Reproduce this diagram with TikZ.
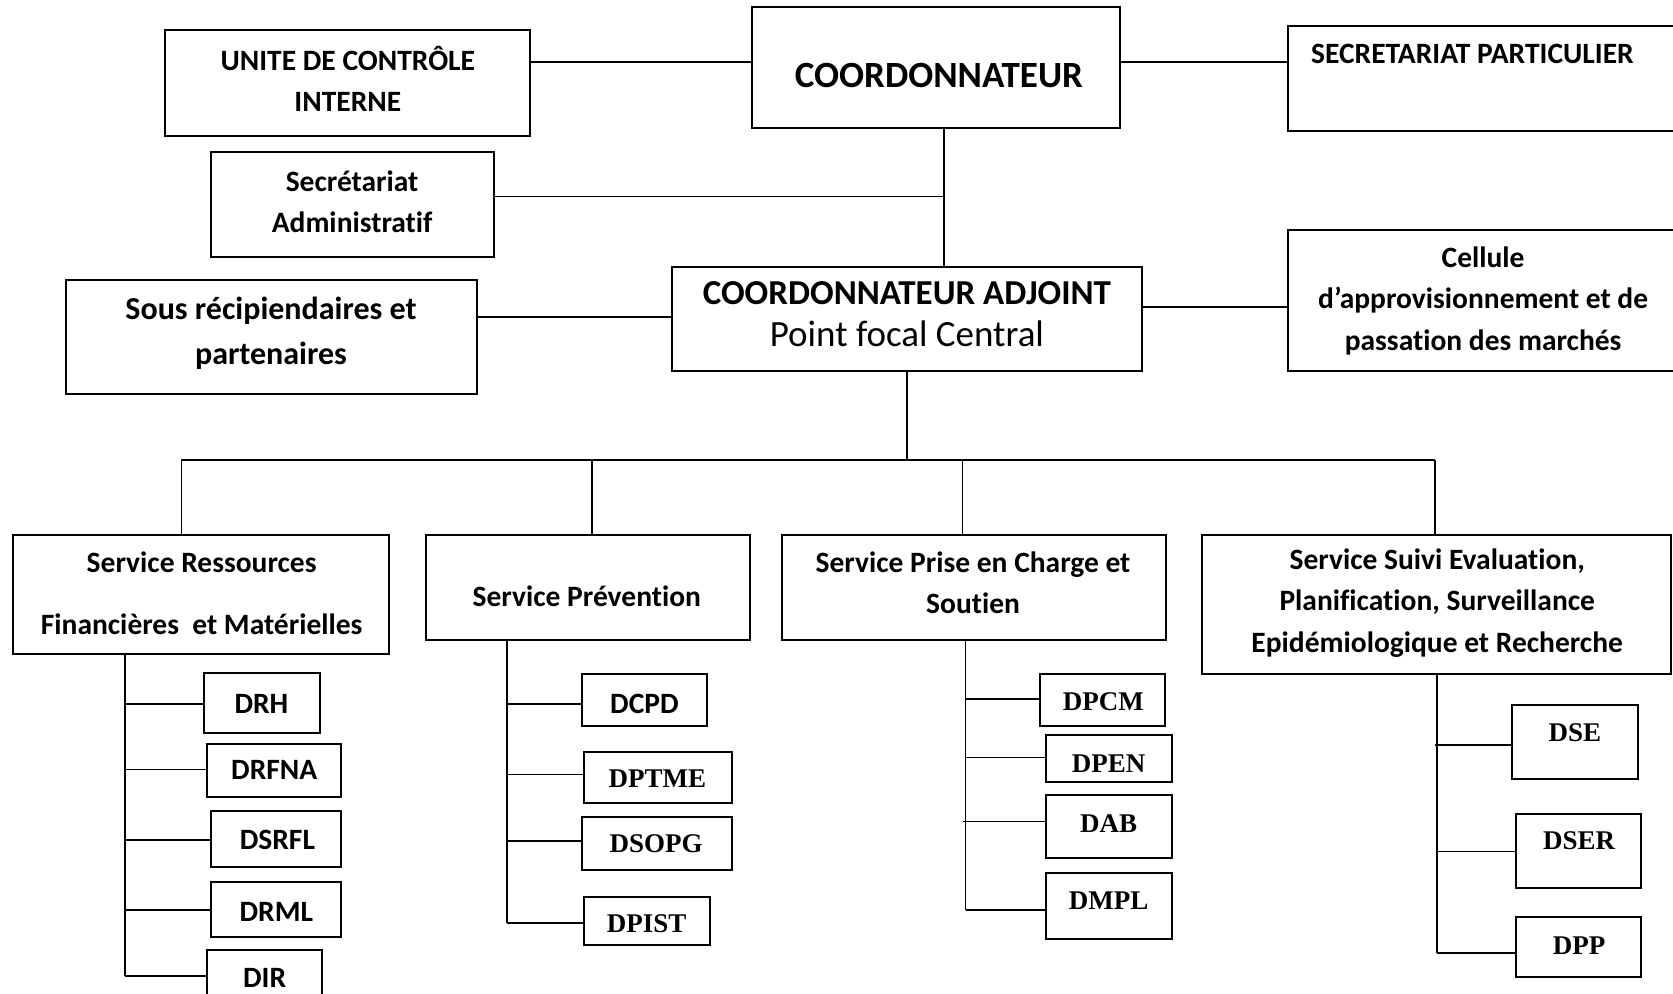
\documentclass[tikz,border=0pt]{standalone}
\usepackage{fontspec}
\setmainfont{Carlito}[Ligatures=NoCommon]
\newfontfamily\tnr{Liberation Serif}
\usetikzlibrary{fit}
\begin{document}
\begin{tikzpicture}[x=0.5335pt,y=-0.5335pt,
  box/.style={draw, line width=1pt, inner sep=0pt, outer sep=0pt},
  ln/.style={line width=0.8pt},
  lbl/.style={font=\bfseries\fontsize{14.75}{20.3}\selectfont, align=center, inner sep=0pt},
  tms/.style={font=\tnr\bfseries\fontsize{13.5}{16}\selectfont, inner sep=0pt}]
\useasboundingbox (0,0) rectangle (1568,931);

% ---------- top level ----------
\node[box, fit={(155,28) (497,127)}] (uci) {};
\node[lbl] (uci-t) at (326,74) {UNITE DE CONTRÔLE\\INTERNE};

\node[box, fit={(705,7) (1050,120)}] (coord) {};
\node[lbl, font=\bfseries\fontsize{18.5}{22}\selectfont] (coord-t) at (880,71) {COORDONNATEUR};

\node[box, fit={(1207,24) (1590,123)}] (spart) {};
\node[lbl] (spart-t) at (1380,51) {SECRETARIAT PARTICULIER};

\node[box, fit={(198,142) (463,241)}] (sadm) {};
\node[lbl] (sadm-t) at (330,189) {Secrétariat\\Administratif};

\node[box, fit={(630,250) (1070,348)}] (adj) {};
\node[lbl, font=\bfseries\fontsize{17.5}{20}\selectfont] (adj-t1) at (850,275) {COORDONNATEUR ADJOINT};
\node[lbl, font=\fontsize{18.5}{20}\selectfont] (adj-t2) at (850,313) {Point focal Central};

\node[box, fit={(62,262) (447,369)}] (sous) {};
\node[lbl, font=\bfseries\fontsize{16}{22.4}\selectfont] (sous-t) at (254,312) {Sous récipiendaires et\\partenaires};

\node[box, fit={(1207,216) (1590,348)}] (cell) {};
\node[lbl, font=\bfseries\fontsize{14.75}{20.6}\selectfont] (cell-t) at (1390,282) {Cellule\\d’approvisionnement et de\\passation des marchés};

% connectors top
\coordinate (h1) at (0,58);
\coordinate (v1) at (885,0);
\coordinate (h2) at (0,184);
\coordinate (h3) at (0,297);
\coordinate (h4) at (0,288);
\draw[ln] (uci.east |- h1) -- (coord.west |- h1);
\draw[ln] (coord.east |- h1) -- (spart.west |- h1);
\draw[ln] (v1 |- coord.south) -- (v1 |- adj.north);
\draw[ln] (sadm.east |- h2) -- (v1 |- h2);
\draw[ln] (sous.east |- h3) -- (adj.west |- h3);
\draw[ln] (adj.east |- h4) -- (cell.west |- h4);

% ---------- services ----------
\node[box, fit={(12,501) (365,613)}] (sr) {};
\node[lbl, font=\bfseries\fontsize{14.75}{31}\selectfont] (sr-t) at (189,556) {Service Ressources\\Financières~~et Matérielles};

\node[box, fit={(399,501) (703,600)}] (sp) {};
\node[lbl] (sp-t) at (550,559) {Service Prévention};

\node[box, fit={(733,501) (1093,600)}] (spc) {};
\node[lbl] (spc-t) at (912,546) {Service Prise en Charge et\\Soutien};

\node[box, fit={(1127,501) (1566,632)}] (sse) {};
\node[lbl, font=\bfseries\fontsize{14.75}{20.8}\selectfont] (sse-t) at (1347,565) {Service Suivi Evaluation,\\Planification, Surveillance\\Epidémiologique et Recherche};

\coordinate (bus) at (850,431);
\coordinate (d1) at (170,431);
\coordinate (d2) at (555,431);
\coordinate (d3) at (902,431);
\coordinate (d4) at (1345,431);
\draw[ln] (adj.south) -- (adj.south |- bus);
\draw[ln] (d1) -- (d4);
\draw[ln] (d1) -- (d1 |- sr.north);
\draw[ln] (d2) -- (d2 |- sp.north);
\draw[ln] (d3) -- (d3 |- spc.north);
\draw[ln] (d4) -- (d4 |- sse.north);

% ---------- SR sub-units ----------
\node[box, fit={(191,631) (300,687)}] (drh) {};
\node[lbl] at (245,660) {DRH};
\node[box, fit={(194,697) (320,747)}] (drfna) {};
\node[lbl] at (257,722) {DRFNA};
\node[box, fit={(198,760) (320,813)}] (dsrfl) {};
\node[lbl] at (260,787) {DSRFL};
\node[box, fit={(198,827) (320,878)}] (drml) {};
\node[lbl] at (259,855) {DRML};
\node[box, fit={(194,890) (302,960)}] (dir) {};
\node[lbl] at (248,917) {DIR};

\coordinate (t1) at (117,0);
\coordinate (b11) at (117,660);
\coordinate (b12) at (117,721);
\coordinate (b13) at (117,787);
\coordinate (b14) at (117,853);
\coordinate (b15) at (117,915);
\draw[ln] (t1 |- sr.south) -- (b15);
\draw[ln] (b11) -- (drh.west |- b11);
\draw[ln] (b12) -- (drfna.west |- b12);
\draw[ln] (b13) -- (dsrfl.west |- b13);
\draw[ln] (b14) -- (drml.west |- b14);
\draw[ln] (b15) -- (dir.west |- b15);

% ---------- SP sub-units ----------
\node[box, fit={(545,632) (663,680)}] (dcpd) {};
\node[lbl] at (604,660) {DCPD};
\node[box, fit={(547,705) (686,753)}] (dptme) {};
\node[tms] at (616,730) {DPTME};
\node[box, fit={(545,766) (686,815)}] (dsopg) {};
\node[tms] at (615,791) {DSOPG};
\node[box, fit={(547,841) (665,886)}] (dpist) {};
\node[tms] at (606,866) {DPIST};

\coordinate (t2) at (475,0);
\coordinate (b21) at (475,660);
\coordinate (b22) at (475,726);
\coordinate (b23) at (475,788);
\coordinate (b24) at (475,865);
\draw[ln] (t2 |- sp.south) -- (b24);
\draw[ln] (b21) -- (dcpd.west |- b21);
\draw[ln] (b22) -- (dptme.west |- b22);
\draw[ln] (b23) -- (dsopg.west |- b23);
\draw[ln] (b24) -- (dpist.west |- b24);

% ---------- SPC sub-units ----------
\node[box, fit={(975,632) (1092,680)}] (dpcm) {};
\node[tms] at (1034,658) {DPCM};
\node[box, fit={(980,689) (1098,733)}] (dpen) {};
\node[tms] at (1039,716) {DPEN};
\node[box, fit={(980,745) (1098,804)}] (dab) {};
\node[tms] at (1039,772) {DAB};
\node[box, fit={(980,818) (1098,880)}] (dmpl) {};
\node[tms] at (1039,844) {DMPL};

\coordinate (t3) at (905,0);
\coordinate (b31) at (905,655);
\coordinate (b32) at (905,710);
\coordinate (b33) at (903,770);
\coordinate (b34) at (905,853);
\draw[ln] (t3 |- spc.south) -- (b34);
\draw[ln] (b31) -- (dpcm.west |- b31);
\draw[ln] (b32) -- (dpen.west |- b32);
\draw[ln] (b33) -- (dab.west |- b33);
\draw[ln] (b34) -- (dmpl.west |- b34);

% ---------- SSE sub-units ----------
\node[box, fit={(1417,661) (1535,730)}] (dse) {};
\node[tms] at (1476,687) {DSE};
\node[box, fit={(1421,763) (1538,832)}] (dser) {};
\node[tms] at (1480,788) {DSER};
\node[box, fit={(1421,859) (1538,916)}] (dpp) {};
\node[tms] at (1480,886) {DPP};

\coordinate (t4) at (1347,0);
\coordinate (b41) at (1345,698);
\coordinate (b42) at (1347,798);
\coordinate (b43) at (1347,893);
\draw[ln] (t4 |- sse.south) -- (b43);
\draw[ln] (b41) -- (dse.west |- b41);
\draw[ln] (b42) -- (dser.west |- b42);
\draw[ln] (b43) -- (dpp.west |- b43);
\end{tikzpicture}
\end{document}
